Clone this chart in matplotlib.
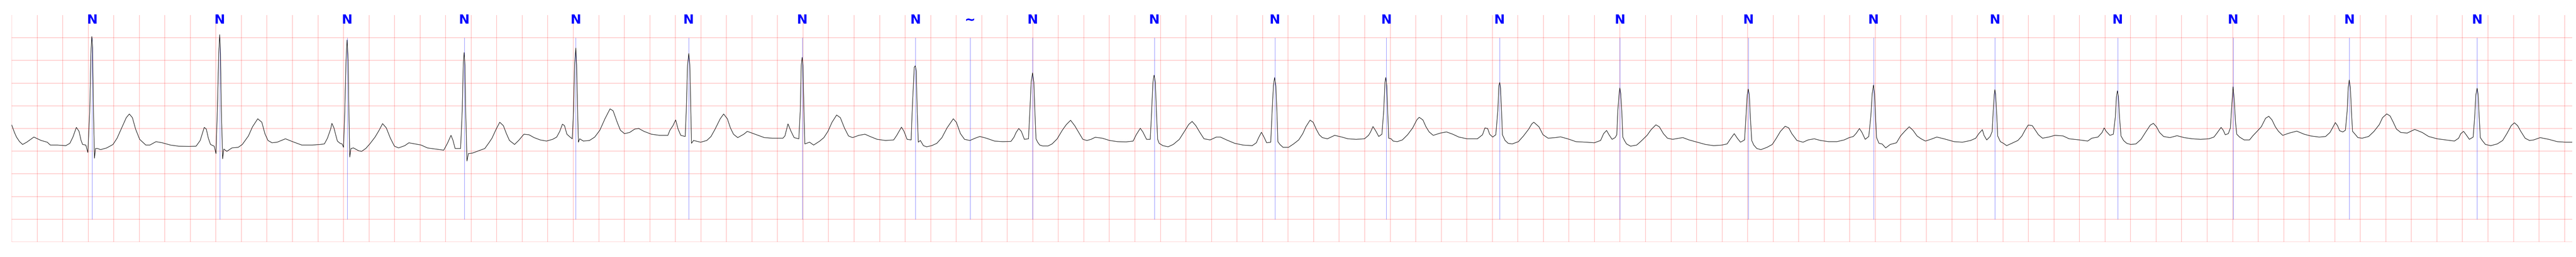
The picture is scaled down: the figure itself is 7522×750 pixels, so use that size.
import numpy as np
import matplotlib
matplotlib.use("Agg")
from matplotlib import pyplot as plt
from matplotlib import font_manager

# beat annotations (seconds) and their symbols
beat_times = [0.630, 1.630, 2.628, 3.546, 4.420, 5.303, 6.194, 7.081, 7.510, 7.998,
              8.952, 9.896, 10.769, 11.656, 12.600, 13.605, 14.586, 15.537,
              16.499, 17.403, 18.313, 19.315]
beat_labels = ['N', 'N', 'N', 'N', 'N', 'N', 'N', 'N', '~', 'N',
               'N', 'N', 'N', 'N', 'N', 'N', 'N', 'N',
               'N', 'N', 'N', 'N']

# ECG trace: time (s) and amplitude (mV)
ecg_t = [
    0.000, 0.022, 0.038, 0.062, 0.086, 0.118, 0.174, 0.231, 0.279, 0.303, 0.359, 0.424,
    0.456, 0.480, 0.507, 0.528, 0.544, 0.556, 0.581, 0.597, 0.612, 0.621, 0.628, 0.634,
    0.641, 0.649, 0.657, 0.673, 0.697, 0.745, 0.794, 0.826, 0.866, 0.898, 0.922, 0.946,
    0.971, 1.003, 1.051, 1.083, 1.131, 1.180, 1.244, 1.308, 1.389, 1.445, 1.477, 1.509,
    1.525, 1.541, 1.558, 1.587, 1.601, 1.614, 1.622, 1.630, 1.636, 1.643, 1.653, 1.662,
    1.686, 1.726, 1.775, 1.807, 1.855, 1.887, 1.928, 1.960, 1.984, 2.008, 2.040, 2.080,
    2.145, 2.201, 2.273, 2.354, 2.418, 2.450, 2.474, 2.499,
    2.509, 2.525, 2.541, 2.552, 2.573, 2.589, 2.600, 2.610, 2.620, 2.628, 2.636, 2.642,
    2.649, 2.658, 2.678, 2.718, 2.742, 2.774, 2.806, 2.847, 2.879, 2.906, 2.935, 2.967,
    2.999, 3.031, 3.080, 3.112, 3.160, 3.208, 3.257, 3.321, 3.385, 3.414, 3.442, 3.458,
    3.474, 3.498, 3.517, 3.530, 3.538, 3.545, 3.551, 3.557, 3.567, 3.578, 3.611, 3.659,
    3.707, 3.739, 3.763, 3.796, 3.824, 3.852, 3.876, 3.900, 3.940, 3.972, 4.013, 4.053,
    4.093, 4.141, 4.190, 4.238, 4.270, 4.294, 4.315, 4.331, 4.350, 4.375, 4.392, 4.402,
    4.410, 4.420, 4.426, 4.434, 4.440, 4.450, 4.479, 4.527, 4.568, 4.608, 4.648, 4.688,
    4.712, 4.744, 4.769, 4.801, 4.841, 4.881, 4.913, 4.954,
    5.012, 5.076, 5.141, 5.157, 5.181, 5.202, 5.221, 5.242, 5.277, 5.285, 5.295, 5.305,
    5.313, 5.321, 5.326, 5.342, 5.398, 5.446, 5.479, 5.511, 5.551, 5.578, 5.607, 5.631,
    5.655, 5.688, 5.736, 5.763, 5.800, 5.849, 5.897, 5.961, 6.042, 6.058, 6.082, 6.106,
    6.130, 6.167, 6.178, 6.186, 6.193, 6.199, 6.207, 6.214, 6.251, 6.283, 6.331, 6.363,
    6.395, 6.427, 6.463, 6.492, 6.524, 6.556, 6.588, 6.637, 6.685, 6.725, 6.781, 6.846,
    6.910, 6.934, 6.971, 6.991, 7.015, 7.047, 7.055, 7.071, 7.079, 7.087, 7.094, 7.103,
    7.119, 7.143, 7.168, 7.208, 7.248, 7.288, 7.328, 7.377, 7.401, 7.433, 7.465,
    7.507, 7.548, 7.585, 7.636, 7.700, 7.765, 7.829, 7.853, 7.869, 7.890, 7.910, 7.934,
    7.966, 7.977, 7.987, 7.998, 8.008, 8.016, 8.025, 8.038, 8.054, 8.078, 8.119, 8.151,
    8.191, 8.231, 8.263, 8.296, 8.328, 8.360, 8.392, 8.424, 8.456, 8.489, 8.545, 8.601,
    8.665, 8.730, 8.786, 8.810, 8.842, 8.862, 8.891, 8.920, 8.931, 8.941, 8.950, 8.960,
    8.968, 8.978, 8.990, 9.019, 9.060, 9.100, 9.148, 9.188, 9.221, 9.248, 9.277, 9.309,
    9.341, 9.389, 9.438, 9.470, 9.518, 9.582, 9.647, 9.719, 9.751, 9.767, 9.791, 9.811,
    9.832, 9.864, 9.875, 9.885, 9.894, 9.904, 9.912, 9.920, 9.936, 9.960,
    10.003, 10.043, 10.083, 10.115, 10.139, 10.172, 10.196, 10.220, 10.244, 10.268, 10.308,
    10.365, 10.421, 10.469, 10.533, 10.598, 10.630, 10.646, 10.665, 10.686, 10.710, 10.735,
    10.749, 10.759, 10.765, 10.773, 10.780, 10.788, 10.807, 10.823, 10.855, 10.895, 10.936,
    10.976, 11.008, 11.027, 11.056, 11.080, 11.105, 11.137, 11.193, 11.241, 11.290, 11.338,
    11.402, 11.483, 11.523, 11.542, 11.563, 11.579, 11.603, 11.627, 11.643, 11.651, 11.658,
    11.664, 11.672, 11.679, 11.700, 11.724, 11.756, 11.804, 11.844, 11.885, 11.909, 11.925,
    11.965, 11.997, 12.037, 12.094, 12.134, 12.190, 12.255, 12.335, 12.399, 12.448, 12.472,
    12.495, 12.514, 12.538, 12.562, 12.575, 12.583, 12.593, 12.599, 12.606, 12.614, 12.622,
    12.635, 12.651, 12.683, 12.731, 12.771, 12.812, 12.844, 12.881, 12.908, 12.940, 12.972,
    13.013, 13.061, 13.093, 13.141, 13.206, 13.270, 13.334, 13.399, 13.439, 13.463, 13.495,
    13.519, 13.544, 13.576, 13.587, 13.597, 13.605, 13.613, 13.621, 13.632, 13.648, 13.672,
    13.704, 13.752, 13.793, 13.825, 13.857, 13.894, 13.922, 13.946, 13.986, 14.034, 14.074,
    14.122, 14.171, 14.235, 14.299, 14.356, 14.396, 14.428, 14.452, 14.476, 14.496, 14.521,
    14.549, 14.565, 14.576, 14.586, 14.594, 14.602, 14.610, 14.629, 14.653, 14.682, 14.717,
    14.766, 14.798, 14.830, 14.866, 14.895, 14.927, 14.959,
    14.993, 15.034, 15.082, 15.138, 15.218, 15.283, 15.347, 15.387, 15.411, 15.439, 15.452,
    15.473, 15.500, 15.516, 15.524, 15.532, 15.537, 15.543, 15.550, 15.559, 15.580, 15.604,
    15.629, 15.669, 15.717, 15.749, 15.773, 15.798, 15.830, 15.854, 15.878, 15.910, 15.958,
    16.007, 16.071, 16.119, 16.200, 16.264, 16.296, 16.344, 16.377, 16.393, 16.409, 16.438,
    16.465, 16.481, 16.489, 16.497, 16.505, 16.513, 16.525, 16.545, 16.570, 16.602, 16.642,
    16.682, 16.722, 16.755, 16.779, 16.803, 16.827, 16.859, 16.908, 16.964, 17.020, 17.084,
    17.149, 17.213, 17.253, 17.277, 17.309, 17.326, 17.342, 17.366, 17.382, 17.393, 17.403,
    17.412, 17.422, 17.432, 17.454,
    17.490, 17.532, 17.557, 17.591, 17.624, 17.658, 17.683, 17.708, 17.734, 17.759, 17.792,
    17.843, 17.902, 17.960, 18.011, 18.078, 18.128, 18.162, 18.187, 18.204, 18.221, 18.238,
    18.263, 18.283, 18.297, 18.305, 18.313, 18.322, 18.330, 18.339, 18.355, 18.381, 18.414,
    18.465, 18.507, 18.549, 18.574, 18.607, 18.633, 18.658, 18.683, 18.717, 18.767, 18.826,
    18.885, 18.935, 19.002, 19.069, 19.137, 19.170, 19.187, 19.209, 19.229, 19.254, 19.284,
    19.296, 19.305, 19.315, 19.323, 19.331, 19.340, 19.355, 19.380, 19.422, 19.473, 19.515,
    19.548, 19.582, 19.607, 19.632, 19.657, 19.691, 19.725, 19.758, 19.809, 19.876, 19.943,
    20.010, 20.060]

ecg_mv = [
    0.080, -0.088, -0.189, -0.290, -0.352, -0.302, -0.189, -0.264, -0.302, -0.365, -0.365, -0.378,
    -0.327, -0.189, 0.025, -0.063, -0.264, -0.352, -0.365, -0.529, 0.390, 1.649, 2.027, 1.775,
    0.390, -0.655, -0.441, -0.441, -0.466, -0.428, -0.352, -0.214, 0.038, 0.239, 0.320, 0.239,
    -0.013, -0.239, -0.365, -0.365, -0.290, -0.315, -0.365, -0.390, -0.395, -0.390, -0.264, 0.025,
    -0.013, -0.214, -0.352, -0.390, -0.554, 0.642, 1.649, 2.069, 1.649, 0.390, -0.667, -0.453,
    -0.504, -0.428, -0.415, -0.352, -0.164, 0.038, 0.214, 0.138, -0.113, -0.264, -0.315, -0.302,
    -0.227, -0.290, -0.365, -0.365, -0.352, -0.340, -0.214, -0.013,
    0.113, 0.013, -0.164, -0.277, -0.327, -0.340, -0.415, 0.390, 1.523, 1.951, 1.523, 0.390,
    -0.629, -0.441, -0.428, -0.491, -0.504, -0.441, -0.340, -0.189, -0.038, 0.108, 0.013, -0.214,
    -0.390, -0.428, -0.378, -0.315, -0.340, -0.365, -0.428, -0.453, -0.478, -0.327, -0.151, -0.264,
    -0.441, -0.441, -0.441, 0.390, 1.397, 1.674, 1.397, 0.390, -0.718, -0.554, -0.541, -0.491,
    -0.441, -0.315, -0.214, -0.013, 0.138, 0.063, -0.113, -0.264, -0.352, -0.264, -0.126, -0.138,
    -0.201, -0.252, -0.277, -0.239, -0.189, -0.063, 0.096, 0.063, -0.126, -0.189, -0.227, 0.390,
    1.397, 1.775, 1.397, 0.390, -0.302, -0.227, -0.277, -0.264, -0.189, -0.038, 0.214, 0.433,
    0.390, 0.138, -0.038, -0.113, -0.088, -0.013, 0.000, -0.063,
    -0.126, -0.151, -0.151, -0.038, 0.063, 0.189, -0.013, -0.151, -0.176, 0.390, 1.397, 1.654,
    1.397, 0.390, -0.327, -0.264, -0.302, -0.264, -0.176, -0.013, 0.214, 0.320, 0.214, 0.013,
    -0.126, -0.201, -0.126, -0.063, -0.101, -0.151, -0.201, -0.214, -0.214, -0.164, 0.101, -0.063,
    -0.201, -0.227, 0.390, 1.397, 1.568, 1.397, 0.390, -0.340, -0.302, -0.365, -0.277, -0.201,
    -0.063, 0.138, 0.297, 0.239, 0.013, -0.164, -0.201, -0.151, -0.126, -0.176, -0.239, -0.264,
    -0.252, -0.151, 0.030, -0.063, -0.239, -0.252, 0.390, 1.347, 1.382, 1.271, 0.390, -0.302,
    -0.264, -0.378, -0.403, -0.378, -0.327, -0.201, 0.013, 0.214, 0.138, -0.113, -0.239,
    -0.264, -0.214, -0.176, -0.214, -0.277, -0.290, -0.284, -0.189, -0.088, 0.000, -0.063, -0.239,
    -0.227, 0.390, 1.020, 1.226, 1.020, 0.390, -0.227, -0.302, -0.365, -0.385, -0.385, -0.340,
    -0.227, -0.038, 0.088, 0.181, 0.063, -0.088, -0.239, -0.264, -0.239, -0.194, -0.214, -0.264,
    -0.290, -0.295, -0.277, -0.138, 0.005, -0.076, -0.239, -0.239, 0.390, 1.020, 1.176, 1.020,
    0.390, -0.239, -0.327, -0.378, -0.403, -0.352, -0.239, -0.063, 0.088, 0.156, 0.063, -0.088,
    -0.227, -0.252, -0.189, -0.189, -0.252, -0.327, -0.365, -0.378, -0.315, -0.214, -0.083, -0.189,
    -0.315, -0.302, 0.390, 0.944, 1.123, 0.944, 0.390, -0.290, -0.352, -0.415,
    -0.415, -0.340, -0.252, -0.113, 0.038, 0.184, 0.138, -0.013, -0.138, -0.201, -0.227,
    -0.151, -0.189, -0.227, -0.239, -0.227, -0.151, -0.076, 0.043, -0.050, -0.176, -0.126,
    0.390, 1.020, 1.125, 0.944, 0.390, -0.214, -0.227, -0.277, -0.290, -0.252, -0.138,
    0.013, 0.189, 0.247, 0.189, 0.038, -0.076, -0.151, -0.101, -0.076, -0.126, -0.189,
    -0.227, -0.227, -0.138, 0.013, 0.000, -0.126, -0.189, -0.138, 0.390, 0.944, 1.015,
    0.894, 0.390, -0.138, -0.264, -0.327, -0.340, -0.290, -0.164, -0.013, 0.101, 0.138,
    0.038, -0.138, -0.214, -0.201, -0.184, -0.227, -0.290, -0.302, -0.315, -0.264, -0.113,
    -0.043, -0.138, -0.239, -0.201, -0.138, 0.390, 0.768, 0.894, 0.768, 0.390, -0.189,
    -0.264, -0.340, -0.390, -0.365, -0.264, -0.151, -0.025, 0.081, 0.038, -0.113, -0.214,
    -0.239, -0.214, -0.201, -0.252, -0.302, -0.352, -0.378, -0.365, -0.340, -0.239, -0.113,
    -0.214, -0.302, -0.252, 0.264, 0.743, 0.869, 0.743, 0.264, -0.264, -0.365, -0.441,
    -0.466, -0.415, -0.352, -0.214, -0.063, 0.050, 0.013, -0.113, -0.264, -0.302, -0.252,
    -0.227, -0.264, -0.290, -0.290, -0.252, -0.201, -0.176, -0.101, 0.000, -0.088, -0.239,
    -0.176, 0.264, 0.768, 0.957, 0.768, 0.264, -0.201, -0.327, -0.340, -0.428, -0.352,
    -0.315, -0.164, -0.063, 0.038, -0.038, -0.164, -0.227,
    -0.277, -0.239, -0.189, -0.227, -0.290, -0.302, -0.264, -0.214, -0.113, -0.025, -0.151,
    -0.252, -0.176, -0.063, 0.390, 0.743, 0.856, 0.743, 0.390, -0.164, -0.290, -0.327,
    -0.378, -0.327, -0.264, -0.164, -0.038, 0.076, 0.063, -0.038, -0.138, -0.214, -0.189,
    -0.151, -0.164, -0.227, -0.252, -0.277, -0.214, -0.189, -0.088, 0.013, -0.063, -0.151,
    -0.126, 0.264, 0.692, 0.831, 0.692, 0.264, -0.164, -0.264, -0.327, -0.352, -0.340,
    -0.239, -0.063, 0.076, 0.113, 0.038, -0.088, -0.176, -0.201, -0.159, -0.201, -0.227,
    -0.239, -0.227, -0.189, -0.101, 0.025, -0.038, -0.138, -0.113, 0.013, 0.516, 0.919,
    0.642, 0.138, -0.126, -0.189,
    -0.252, -0.252, -0.164, -0.063, 0.038, 0.227, 0.269, 0.189, 0.038, -0.063, -0.151,
    -0.101, -0.058, -0.126, -0.164, -0.189, -0.176, -0.088, 0.038, 0.131, 0.063, -0.050,
    -0.076, -0.038, 0.390, 0.894, 1.070, 0.894, 0.390, -0.063, -0.113, -0.201, -0.214,
    -0.176, -0.063, 0.088, 0.239, 0.322, 0.277, 0.138, -0.013, -0.088, -0.101, -0.020,
    -0.088, -0.176, -0.227, -0.252, -0.277, -0.214, -0.113, -0.063, -0.138, -0.239, -0.189,
    0.264, 0.743, 0.889, 0.743, 0.264, -0.201, -0.264, -0.352, -0.378, -0.340, -0.264,
    -0.113, 0.063, 0.126, 0.063, -0.063, -0.214, -0.264, -0.252, -0.201, -0.239, -0.290,
    -0.302, -0.302]

# pick a narrow bold face for the annotation symbols if one is installed
installed = {f.name for f in font_manager.fontManager.ttflist}
label_family = ['DejaVu Sans']
for cand in ['Liberation Sans Narrow', 'DejaVu Sans Condensed']:
    if cand in installed:
        label_family = [cand, 'DejaVu Sans']
        break

fig = plt.figure(figsize=(75.22, 7.5), dpi=100)
ax = fig.add_axes([34 / 7522, 44 / 750, 7477 / 7522, 662 / 750])

ax.plot(ecg_t, ecg_mv, color='black', lw=1.0, zorder=3)

# annotation markers
ax.vlines(beat_times, -2.0, 2.0, colors='blue', lw=0.7, alpha=0.6, zorder=2)
for t, lab in zip(beat_times, beat_labels):
    ax.text(t, 2.39, lab, ha='center', va='center', color='blue',
            fontsize=27, fontweight='bold', family=label_family, clip_on=False)

# ecg paper grid: 0.2 s by 0.5 mV
ax.set_xlim(0, 20.06)
ax.set_ylim(-2.5, 2.5)
ax.set_xticks(np.arange(0, 20.06, 0.2))
ax.set_yticks(np.arange(-2.5, 2.5, 0.5))
ax.grid(True, color='red', alpha=0.25, lw=1.3)
ax.tick_params(length=0, labelleft=False, labelbottom=False)
for s in ax.spines.values():
    s.set_visible(False)

fig.savefig('out.png', dpi=100)
